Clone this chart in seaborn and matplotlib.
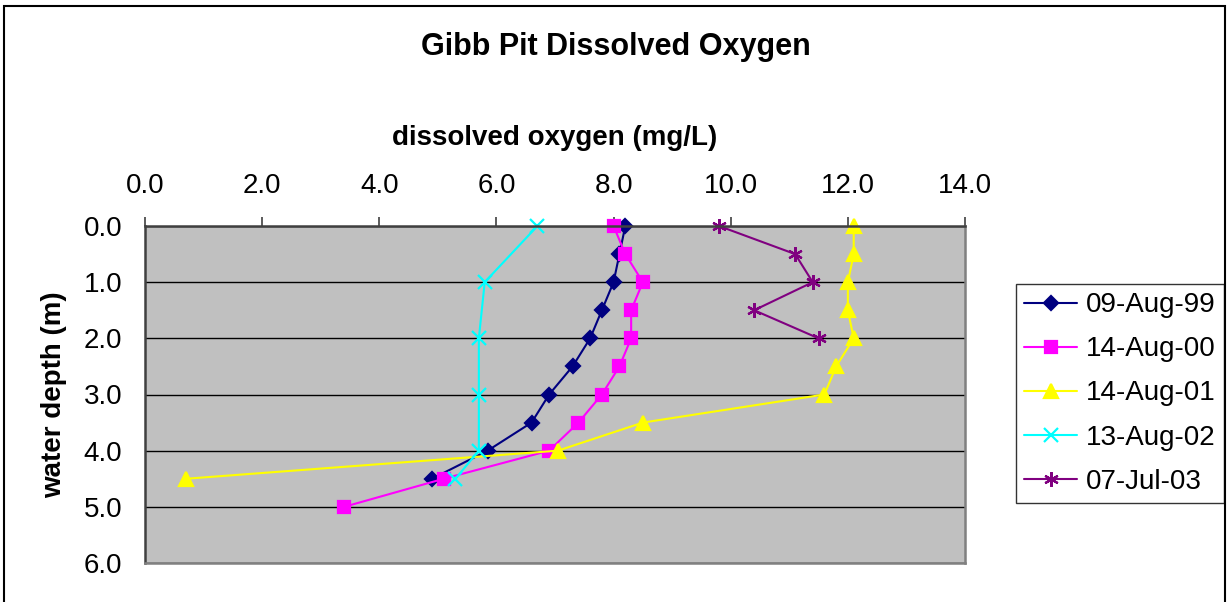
import pandas as pd
import matplotlib
matplotlib.use("Agg")
import matplotlib.pyplot as plt
import seaborn as sns
from matplotlib.patches import Rectangle

# dissolved oxygen profiles (mg/L) against water depth (m)
depth_99 = [0.0, 0.5, 1.0, 1.5, 2.0, 2.5, 3.0, 3.5, 4.0, 4.5]
do_99 = [8.2, 8.1, 8.0, 7.8, 7.6, 7.3, 6.9, 6.6, 5.85, 4.9]

depth_00 = [0.0, 0.5, 1.0, 1.5, 2.0, 2.5, 3.0, 3.5, 4.0, 4.5, 5.0]
do_00 = [8.0, 8.2, 8.5, 8.3, 8.3, 8.1, 7.8, 7.4, 6.9, 5.1, 3.4]

depth_01 = [0.0, 0.5, 1.0, 1.5, 2.0, 2.5, 3.0, 3.5, 4.0, 4.5]
do_01 = [12.1, 12.1, 12.0, 12.0, 12.1, 11.8, 11.6, 8.5, 7.05, 0.7]

depth_02 = [0.0, 1.0, 2.0, 3.0, 4.0, 4.5]
do_02 = [6.7, 5.8, 5.7, 5.7, 5.7, 5.3]

depth_03 = [0.0, 0.5, 1.0, 1.5, 2.0]
do_03 = [9.8, 11.1, 11.4, 10.4, 11.5]

dates = ["09-Aug-99", "14-Aug-00", "14-Aug-01", "13-Aug-02", "07-Jul-03"]
depths = [depth_99, depth_00, depth_01, depth_02, depth_03]
oxygen = [do_99, do_00, do_01, do_02, do_03]

rows = []
for d, dep, ox in zip(dates, depths, oxygen):
    for i, (z, v) in enumerate(zip(dep, ox)):
        rows.append({"date": d, "order": i, "depth": z, "oxygen": v})
df = pd.DataFrame(rows)

colors = {"09-Aug-99": "#000080", "14-Aug-00": "#FF00FF", "14-Aug-01": "#FFFF00",
          "13-Aug-02": "#00FFFF", "07-Jul-03": "#800080"}
markers = {"09-Aug-99": "D", "14-Aug-00": "s", "14-Aug-01": "^",
           "13-Aug-02": "x", "07-Jul-03": (6, 2, 0)}
msizes = {"09-Aug-99": 7.5, "14-Aug-00": 8, "14-Aug-01": 9.5, "13-Aug-02": 9.5, "07-Jul-03": 10.5}

sns.set_style("white")
plt.rcParams["font.family"] = ["Liberation Sans", "DejaVu Sans"]
plt.rcParams["text.color"] = "black"
plt.rcParams["axes.labelcolor"] = "black"
plt.rcParams["xtick.color"] = "black"
plt.rcParams["ytick.color"] = "black"

fig = plt.figure(figsize=(12.28, 6.02), dpi=100)
ax = fig.add_axes([145 / 1228, 1 - 563 / 602, 820 / 1228, 337 / 602])
ax.set_facecolor("#C0C0C0")

for d in dates:
    sub = df[df["date"] == d]
    sns.lineplot(data=sub, x="oxygen", y="depth", sort=False, estimator=None,
                 color=colors[d], marker=markers[d], markersize=msizes[d],
                 markeredgecolor=colors[d], markeredgewidth=1.6,
                 linewidth=1.5, label=d, ax=ax, clip_on=False)

ax.set_xlim(0, 14)
ax.set_ylim(6, 0)
ax.set_xticks([0, 2, 4, 6, 8, 10, 12, 14])
ax.set_yticks([0, 1, 2, 3, 4, 5, 6])
ax.xaxis.set_major_formatter(matplotlib.ticker.FormatStrFormatter("%.1f"))
ax.yaxis.set_major_formatter(matplotlib.ticker.FormatStrFormatter("%.1f"))
ax.xaxis.tick_top()
ax.xaxis.set_label_position("top")
ax.tick_params(axis="both", direction="out", length=6.5, width=1.2, color="#404040",
               labelsize=20, labelcolor="black")
ax.tick_params(axis="x", pad=13)
ax.tick_params(axis="y", pad=10)
ax.grid(axis="y", color="black", linewidth=1.0)
ax.grid(axis="x", visible=False)
ax.set_axisbelow(True)
for side in ["top", "left"]:
    ax.spines[side].set_color("#404040")
    ax.spines[side].set_linewidth(1.8)
for side in ["bottom", "right"]:
    ax.spines[side].set_color("#808080")
    ax.spines[side].set_linewidth(1.8)

ax.set_xlabel("dissolved oxygen (mg/L)", fontsize=20, fontweight="bold", labelpad=20)
ax.set_ylabel("water depth (m)", fontsize=20, fontweight="bold", labelpad=12)
fig.text(616 / 1228, 1 - 47 / 602, "Gibb Pit Dissolved Oxygen", fontsize=22,
         fontweight="bold", ha="center", va="center")

leg = ax.legend(loc="upper left", bbox_to_anchor=(1016 / 1228, 1 - 284 / 602),
                bbox_transform=fig.transFigure, fontsize=20, frameon=True,
                fancybox=False, edgecolor="black", handlelength=1.9,
                labelspacing=0.65, borderpad=0.3, handletextpad=0.3,
                borderaxespad=0)
leg.get_frame().set_linewidth(1.0)

fig.patches.append(Rectangle((4 / 1228, -0.05), 1221 / 1228, 1.05 - 6 / 602,
                             transform=fig.transFigure, fill=False,
                             edgecolor="black", linewidth=1.5))

fig.savefig("out.png", dpi=100)
